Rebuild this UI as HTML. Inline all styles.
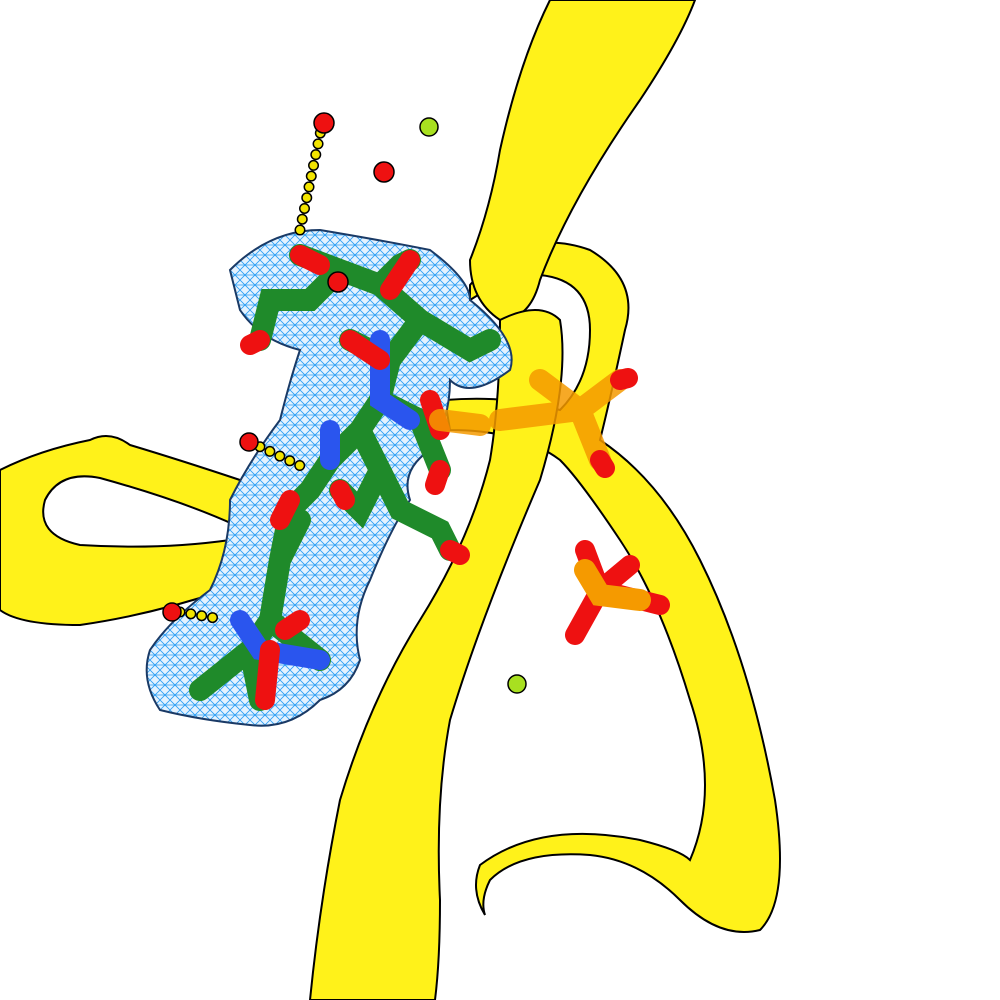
<!DOCTYPE html>
<html><head><meta charset="utf-8"><style>html,body{margin:0;padding:0;background:#fff}svg{display:block}</style></head>
<body>
<svg width="1000" height="1000" viewBox="0 0 1000 1000" xmlns="http://www.w3.org/2000/svg">
<defs>
<pattern id="mesh" width="10" height="10" patternUnits="userSpaceOnUse">
<rect width="10" height="10" fill="#e4f2ff"/>
<path d="M0 0L10 10M10 0L0 10M0 5H10" stroke="#2a9df4" stroke-width="0.8"/>
</pattern>
</defs>
<path d="M0 470 Q40 450 90 440 Q110 430 130 445 Q180 460 240 480 L235 525 Q180 500 100 478 Q60 470 45 500 Q35 535 80 545 Q160 550 230 540 L225 590 Q150 615 80 625 Q20 625 0 610 Z" fill="#fff21a" stroke="#000" stroke-width="2"/>
<path d="M470 285 Q520 225 590 250 Q640 280 625 330 Q610 400 600 440 Q660 480 700 560 Q750 660 775 800 Q790 900 760 930 Q720 940 680 900 Q640 860 590 855 Q520 850 490 880 Q480 900 485 915 Q470 890 480 865 Q540 820 640 840 Q680 850 690 860 Q720 790 690 700 Q660 600 620 540 Q580 480 560 460 Q520 430 450 430 L445 400 Q510 395 560 410 Q590 380 590 330 Q590 280 540 275 Q500 280 470 300 Z" fill="#fff21a" stroke="#000" stroke-width="2"/>
<path d="M550 0 Q520 60 500 150 Q490 210 470 260 Q470 300 500 320 Q530 320 540 280 Q570 200 640 100 Q680 40 695 0 Z" fill="#fff21a" stroke="#000" stroke-width="2"/>
<path d="M500 320 Q540 300 560 320 Q570 380 540 480 Q480 620 450 720 Q435 800 440 900 Q440 960 435 1000 L310 1000 Q320 900 340 800 Q370 700 420 620 Q470 540 490 460 Q500 400 500 320 Z" fill="#fff21a" stroke="#000" stroke-width="2"/>
<path d="M230 270 Q270 230 320 230 Q380 240 430 250 Q470 280 470 300 Q520 340 510 370 Q470 400 450 380 Q450 420 430 450 Q400 470 410 500 Q390 530 370 580 Q350 620 360 660 Q350 690 320 700 Q290 730 250 725 Q200 720 160 710 Q140 680 150 650 Q170 620 210 590 Q230 550 230 500 Q250 460 280 420 Q290 380 300 350 Q260 340 240 310 Z" fill="url(#mesh)" stroke="#1a3a66" stroke-width="2"/>
<g stroke-linecap="round" fill="none">
<path d="M300 255 L340 270 L380 285 L400 265 L410 260 M340 270 L310 300 L270 300 L260 340 M380 285 L420 320 L470 350 L490 340 M420 320 L390 360 L350 340 M390 360 L380 400 L360 430 L330 460 L310 490 L290 510 L280 560 L270 620 L250 650 L200 690 M380 400 L420 420 L440 470 M360 430 L380 470 L360 510 L340 490 M380 470 L400 510 L440 530 L450 550 M300 520 L280 560 M270 620 L320 660 M250 650 L260 700" stroke="#1f8a2a" stroke-width="22"/>
<path d="M380 340 L380 400 L410 420 M330 430 L330 460 M240 620 L260 650 L320 660" stroke="#2a55ee" stroke-width="20"/>
<path d="M410 260 L390 290 M260 340 L250 345 M300 255 L320 265 M350 340 L380 360 M430 400 L440 430 M440 470 L435 485 M450 550 L460 555 M290 500 L280 520 M340 490 L345 500 M270 650 L265 700 M300 620 L285 630" stroke="#ee1111" stroke-width="20"/>
<path d="M540 380 L580 410 L620 380 M580 410 L600 460 M580 410 L500 420 M440 420 L480 425" stroke="#f59a00" stroke-width="22" opacity="0.85"/>
<path d="M600 460 L605 468 M620 380 L628 378 M585 550 L600 590 L575 635 M600 590 L660 605 M600 590 L630 565" stroke="#ee1111" stroke-width="20"/>
<path d="M585 570 L600 595 L640 600" stroke="#f59a00" stroke-width="22"/>
<path d="M300 230 L322 125 M180 612 L215 618 M250 442 L305 468" stroke="#000" stroke-width="11" stroke-dasharray="0 11"/>
<path d="M300 230 L322 125 M180 612 L215 618 M250 442 L305 468" stroke="#f2e400" stroke-width="8" stroke-dasharray="0 11"/>
</g>
<g stroke="#000" stroke-width="1.5">
<circle cx="324" cy="123" r="10" fill="#ee1111"/>
<circle cx="384" cy="172" r="10" fill="#ee1111"/>
<circle cx="338" cy="282" r="10" fill="#ee1111"/>
<circle cx="249" cy="442" r="9" fill="#ee1111"/>
<circle cx="172" cy="612" r="9" fill="#ee1111"/>
<circle cx="429" cy="127" r="9" fill="#a8e020"/>
<circle cx="517" cy="684" r="9" fill="#a8e020"/>
</g>
</svg>
</body></html>
